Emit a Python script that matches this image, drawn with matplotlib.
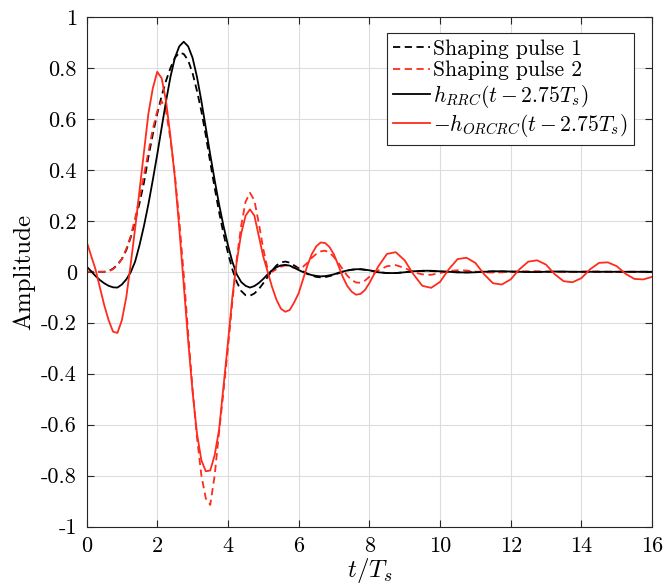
import numpy as np
import matplotlib
matplotlib.use('Agg')
from matplotlib import pyplot as plt

plt.rcParams['font.family'] = 'cmr10'
plt.rcParams['mathtext.fontset'] = 'cm'
plt.rcParams['axes.unicode_minus'] = False

# time grid: fine up to 8 Ts, coarser in the tail
t = np.concatenate([np.arange(0, 8, 0.125), np.arange(8, 16.01, 0.25)])

# Shaping pulse 1 (black dashed)
pulse1 = [0, 0, 0, 0, 0, 0.003, 0.012, 0.028,
          0.05, 0.085, 0.135, 0.2, 0.27, 0.35, 0.45, 0.54,
          0.62, 0.69, 0.75, 0.8, 0.84, 0.86, 0.855, 0.83,
          0.78, 0.71, 0.63, 0.535, 0.43, 0.33, 0.235, 0.15,
          0.075, 0.01, -0.04, -0.075, -0.092, -0.094, -0.085, -0.068,
          -0.045, -0.02, 0.005, 0.025, 0.037, 0.04, 0.036, 0.025,
          0.014, 0.002, -0.008, -0.015, -0.02, -0.022, -0.021, -0.017,
          -0.012, -0.006, 0.0, 0.005, 0.008, 0.01, 0.01, 0.008,
          0.006, -0.001, -0.005, -0.005, -0.002, 0.002, 0.003, 0.003,
          0.001, -0.001, -0.002, -0.002, -0.001, 0.001, 0.001, 0.001,
          0, 0, 0, 0, 0, 0, 0, 0,
          0, 0, 0, 0, 0, 0, 0, 0, 0]

# Shaping pulse 2 (red dashed)
pulse2 = [0, 0, 0, 0, 0, 0.002, 0.01, 0.025,
          0.05, 0.09, 0.14, 0.21, 0.29, 0.38, 0.47, 0.56,
          0.63, 0.67, 0.63, 0.52, 0.38, 0.2, -0.01, -0.24,
          -0.46, -0.65, -0.8, -0.89, -0.915, -0.8, -0.63, -0.47,
          -0.3, -0.12, 0.05, 0.18, 0.275, 0.31, 0.28, 0.19,
          0.09, 0.01, 0.0, 0.01, 0.02, 0.025, 0.022, 0.015,
          0.012, 0.02, 0.035, 0.055, 0.07, 0.08, 0.083, 0.075,
          0.058, 0.035, 0.01, -0.015, -0.032, -0.042, -0.043, -0.035,
          -0.02, 0.005, 0.022, 0.026, 0.015, -0.002, -0.01, -0.012,
          -0.005, 0.003, 0.006, 0.005, 0.001, -0.002, -0.003, -0.002,
          0, 0.001, 0.002, 0.002, 0.001, 0, -0.001, -0.001,
          0, 0.001, 0.001, 0, 0, 0, 0, 0, 0]

# h_RRC(t - 2.75Ts) (black solid)
h_rrc = [0.021, 0.003, -0.016, -0.032, -0.045, -0.055, -0.061, -0.062,
         -0.05, -0.03, -0.002, 0.04, 0.105, 0.18, 0.265, 0.36,
         0.46, 0.565, 0.67, 0.765, 0.84, 0.885, 0.903, 0.885,
         0.84, 0.765, 0.67, 0.565, 0.46, 0.36, 0.265, 0.18,
         0.105, 0.04, -0.01, -0.04, -0.055, -0.062, -0.056, -0.044,
         -0.028, -0.01, 0.006, 0.018, 0.025, 0.027, 0.024, 0.016,
         0.007, -0.001, -0.008, -0.013, -0.016, -0.018, -0.017, -0.014,
         -0.01, -0.004, 0.001, 0.005, 0.008, 0.01, 0.01, 0.008,
         0.006, -0.002, -0.005, -0.005, -0.002, 0.002, 0.004, 0.004,
         0.002, 0.0, -0.002, -0.003, -0.002, 0.0, 0.002, 0.002,
         0.001, 0, -0.001, -0.001, 0, 0.001, 0.001, 0,
         0, 0, 0, 0, 0, 0, 0, 0, 0]

# -h_ORCRC(t - 2.75Ts) (red solid)
h_orcrc = [0.12, 0.065, 0.012, -0.06, -0.13, -0.19, -0.235, -0.24,
           -0.19, -0.1, 0.03, 0.17, 0.32, 0.47, 0.62, 0.72,
           0.785, 0.76, 0.67, 0.53, 0.37, 0.17, -0.05, -0.27,
           -0.47, -0.635, -0.74, -0.783, -0.78, -0.72, -0.62, -0.45,
           -0.28, -0.1, 0.04, 0.15, 0.22, 0.245, 0.22, 0.14,
           0.06, 0.0, -0.06, -0.11, -0.145, -0.157, -0.15, -0.12,
           -0.085, -0.03, 0.025, 0.07, 0.1, 0.115, 0.113, 0.097,
           0.068, 0.025, -0.02, -0.055, -0.078, -0.09, -0.087, -0.072,
           -0.045, 0.02, 0.07, 0.077, 0.045, -0.01, -0.055, -0.063,
           -0.04, 0.01, 0.05, 0.055, 0.035, -0.01, -0.045, -0.05,
           -0.03, 0.01, 0.04, 0.045, 0.028, -0.01, -0.037, -0.041,
           -0.025, 0.01, 0.035, 0.037, 0.022, -0.008, -0.028, -0.03, -0.02]

labels = ['Shaping pulse 1', 'Shaping pulse 2',
          r'$h_{RRC}(t-2.75T_s)$', r'$-h_{ORCRC}(t-2.75T_s)$']
xticks = [0, 2, 4, 6, 8, 10, 12, 14, 16]
yticks = [-1, -0.8, -0.6, -0.4, -0.2, 0, 0.2, 0.4, 0.6, 0.8, 1]
ytick_labels = ['-1', '-0.8', '-0.6', '-0.4', '-0.2', '0', '0.2', '0.4', '0.6', '0.8', '1']

red = '#ff2b1c'

fig = plt.figure(figsize=(6.64, 5.87), dpi=100)
ax = fig.add_axes([0.1303, 0.103, 0.8517, 0.868])

ax.plot(t, pulse1, color='k', lw=1.3, dashes=(4, 2.5), label=labels[0])
ax.plot(t, pulse2, color=red, lw=1.3, dashes=(4, 2.5), label=labels[1])
ax.plot(t, h_rrc, color='k', lw=1.3, label=labels[2])
ax.plot(t, h_orcrc, color=red, lw=1.3, label=labels[3])

ax.set_xlim(0, 16)
ax.set_ylim(-1, 1)
ax.set_xticks(xticks)
ax.set_xticklabels([str(v) for v in xticks])
ax.set_yticks(yticks)
ax.set_yticklabels(ytick_labels)
ax.tick_params(direction='in', top=True, right=True, length=5, width=0.8,
               labelsize=16, color='#262626', pad=7)
ax.grid(True, color='#dcdcdc', lw=0.8)
ax.set_axisbelow(True)
for s in ax.spines.values():
    s.set_color('#262626')
    s.set_linewidth(0.8)

ax.set_xlabel(r'$t/T_s$', fontsize=18, labelpad=0)
ax.set_ylabel('Amplitude', fontsize=18, labelpad=4)

leg = ax.legend(loc='upper right', bbox_to_anchor=(0.968, 0.969), borderaxespad=0,
                fontsize=15.5, fancybox=False, edgecolor='#262626', framealpha=1,
                handlelength=1.7, handletextpad=0.15, labelspacing=0.1,
                borderpad=0.3)
leg.get_frame().set_linewidth(0.8)

plt.savefig('out.png', dpi=100)
